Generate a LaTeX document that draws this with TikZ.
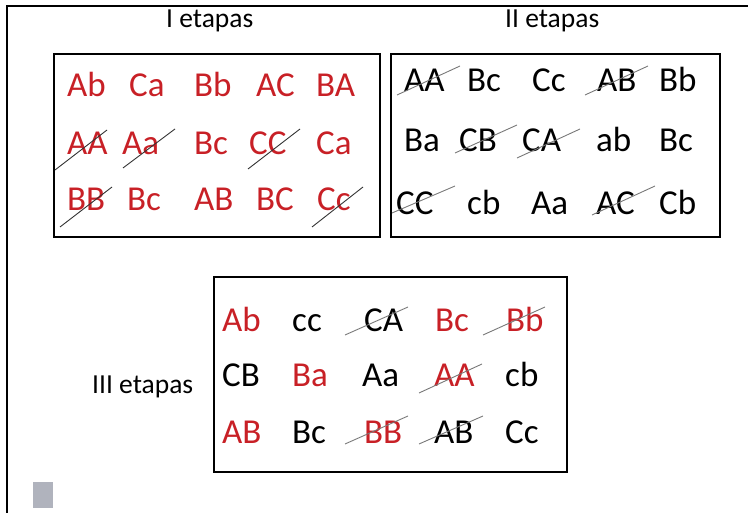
\documentclass[tikz,border=0pt]{standalone}
\usepackage{fontspec}
\setmainfont{Carlito}
\definecolor{wordred}{RGB}{200,32,38}
\definecolor{strikegray}{RGB}{120,120,120}
\definecolor{squaregray}{RGB}{176,179,189}
\tikzset{
  x=1pt, y=-1pt,
  gword/.style={anchor=base west, inner sep=0pt, font=\fontsize{35}{35}\selectfont},
  rword/.style={gword, text=wordred},
  title/.style={anchor=base west, inner sep=0pt, font=\fontsize{27.5}{27.5}\selectfont},
  boxframe/.style={draw=black, line width=2pt},
  strikeK/.style={draw=black!80, line width=0.9pt},
  strikeG/.style={draw=strikegray, line width=0.9pt},
}
\begin{document}
\begin{tikzpicture}
\useasboundingbox (0,0) rectangle (748,513);
% outer frame (top and left edges)
\draw[line width=2.2pt] (7,520) -- (7,6) -- (760,6);
% titles
\node[title] (t1) at (166,28) {I etapas};
\node[title] (t2) at (505,28) {II etapas};
\node[title] (t3) at (92,394) {III etapas};
% boxes
\draw[boxframe] (54,54) rectangle (380,237);
\draw[boxframe] (391,54) rectangle (720,237);
\draw[boxframe] (214,277) rectangle (567,472);
% Box I
\node[rword] (a11) at (67,97) {Ab};
\node[rword] (a12) at (129,97) {Ca};
\node[rword] (a13) at (194,97) {Bb};
\node[rword] (a14) at (256,97) {AC};
\node[rword] (a15) at (316,97) {BA};
\node[rword] (a21) at (67,155) {AA};
\node[rword] (a22) at (122,155) {Aa};
\node[rword] (a23) at (194,155) {Bc};
\node[rword] (a24) at (249,155) {CC};
\node[rword] (a25) at (316,155) {Ca};
\node[rword] (a31) at (67,211) {BB};
\node[rword] (a32) at (127,211) {Bc};
\node[rword] (a33) at (194,211) {AB};
\node[rword] (a34) at (256,211) {BC};
\node[rword] (a35) at (317,211) {Cc};
\draw[strikeK] (55,170) -- (107,130);
\draw[strikeK] (123,168) -- (175,129);
\draw[strikeK] (248,169) -- (300,129);
\draw[strikeK] (60,227) -- (112,187);
\draw[strikeK] (312,227) -- (363,187);
% Box II
\node[gword] (b11) at (404,92) {AA};
\node[gword] (b12) at (467,92) {Bc};
\node[gword] (b13) at (532,92) {Cc};
\node[gword] (b14) at (597,92) {AB};
\node[gword] (b15) at (659,92) {Bb};
\node[gword] (b21) at (404,152) {Ba};
\node[gword] (b22) at (459,152) {CB};
\node[gword] (b23) at (522,152) {CA};
\node[gword] (b24) at (596,152) {ab};
\node[gword] (b25) at (659,152) {Bc};
\node[gword] (b31) at (396,215) {CC};
\node[gword] (b32) at (467,215) {cb};
\node[gword] (b33) at (531,215) {Aa};
\node[gword] (b34) at (596,215) {AC};
\node[gword] (b35) at (659,215) {Cb};
\draw[strikeG] (397,95) -- (460,66);
\draw[strikeG] (585,95) -- (648,66);
\draw[strikeG] (455,153) -- (517,125);
\draw[strikeG] (517,158) -- (580,129);
\draw[strikeG] (392,213) -- (455,186);
\draw[strikeG] (592,215) -- (655,186);
% Box III
\node[rword] (c11) at (222,332) {Ab};
\node[gword] (c12) at (292,332) {cc};
\node[gword] (c13) at (364,332) {CA};
\node[rword] (c14) at (435,332) {Bc};
\node[rword] (c15) at (506,332) {Bb};
\node[gword] (c21) at (222,387) {CB};
\node[rword] (c22) at (292,387) {Ba};
\node[gword] (c23) at (362,387) {Aa};
\node[rword] (c24) at (434,387) {AA};
\node[gword] (c25) at (505,387) {cb};
\node[rword] (c31) at (222,443) {AB};
\node[gword] (c32) at (292,443) {Bc};
\node[rword] (c33) at (364,443) {BB};
\node[gword] (c34) at (434,443) {AB};
\node[gword] (c35) at (505,443) {Cc};
\draw[strikeG] (345,335) -- (408,307);
\draw[strikeG] (483,335) -- (545,307);
\draw[strikeG] (419,393) -- (482,364);
\draw[strikeG] (345,444) -- (408,416);
\draw[strikeG] (419,444) -- (483,416);
% grey square
\fill[squaregray] (33,482) rectangle (53,508);
\end{tikzpicture}
\end{document}
